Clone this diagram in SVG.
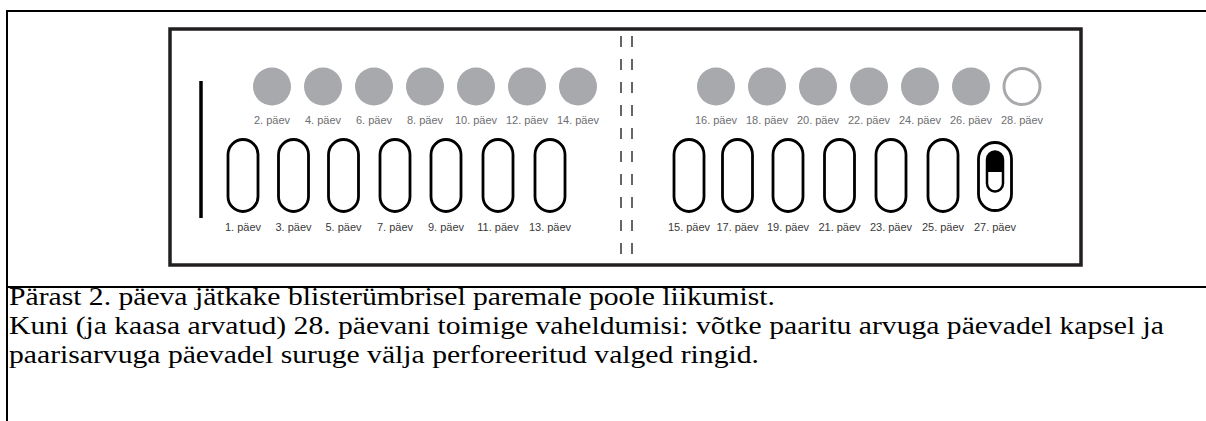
<svg xmlns="http://www.w3.org/2000/svg" width="1206" height="421" viewBox="0 0 1206 421">
<style>
.frame{stroke:#000;stroke-width:2;fill:none}
.box{fill:#fff;stroke:#231f20;stroke-width:3.5}
.dot{fill:#a7a9ac}
.ring{fill:none;stroke:#a7a9ac;stroke-width:3}
.cap{fill:#fff;stroke:#000;stroke-width:2.8}
.lbl{font-family:"Liberation Sans",Arial,sans-serif;font-size:11px;fill:#6d6e71;text-anchor:middle}
.lbl2{font-family:"Liberation Sans",Arial,sans-serif;font-size:11px;fill:#3a3a3a;text-anchor:middle}
.body{font-family:"Liberation Serif","Times New Roman",serif;font-size:25px;fill:#000}
.dash{stroke:#333;stroke-width:1.5;stroke-dasharray:11 12}
</style>
<rect width="1206" height="421" fill="#fff"/>
<g id="table">
<line class="frame" x1="7" y1="11" x2="1206" y2="11"/>
<line class="frame" x1="7" y1="10" x2="7" y2="421"/>
<line class="frame" x1="7" y1="287" x2="1206" y2="287"/>
</g>
<g id="blister">
<rect class="box" x="170" y="29" width="911" height="236"/>
<line x1="201" y1="81" x2="201" y2="218" stroke="#000" stroke-width="3.5"/>
<line class="dash" x1="621" y1="31" x2="621" y2="265" stroke-dashoffset="18"/>
<line class="dash" x1="632" y1="31" x2="632" y2="265" stroke-dashoffset="18"/>
</g>
<g id="even-days">
<circle class="dot" cx="272" cy="86.5" r="19"/><text class="lbl" x="272" y="124">2. päev</text>
<circle class="dot" cx="323" cy="86.5" r="19"/><text class="lbl" x="323" y="124">4. päev</text>
<circle class="dot" cx="374" cy="86.5" r="19"/><text class="lbl" x="374" y="124">6. päev</text>
<circle class="dot" cx="425" cy="86.5" r="19"/><text class="lbl" x="425" y="124">8. päev</text>
<circle class="dot" cx="476" cy="86.5" r="19"/><text class="lbl" x="476" y="124">10. päev</text>
<circle class="dot" cx="527" cy="86.5" r="19"/><text class="lbl" x="527" y="124">12. päev</text>
<circle class="dot" cx="578" cy="86.5" r="19"/><text class="lbl" x="578" y="124">14. päev</text>
<circle class="dot" cx="716" cy="86.5" r="19"/><text class="lbl" x="716" y="124">16. päev</text>
<circle class="dot" cx="767" cy="86.5" r="19"/><text class="lbl" x="767" y="124">18. päev</text>
<circle class="dot" cx="818" cy="86.5" r="19"/><text class="lbl" x="818" y="124">20. päev</text>
<circle class="dot" cx="869" cy="86.5" r="19"/><text class="lbl" x="869" y="124">22. päev</text>
<circle class="dot" cx="920" cy="86.5" r="19"/><text class="lbl" x="920" y="124">24. päev</text>
<circle class="dot" cx="971" cy="86.5" r="19"/><text class="lbl" x="971" y="124">26. päev</text>
<circle class="ring" cx="1022" cy="86.5" r="18"/><text class="lbl" x="1022" y="124">28. päev</text>
</g>
<g id="odd-days">
<rect class="cap" x="228" y="139.5" width="30" height="72" rx="15"/><text class="lbl2" x="243" y="231">1. päev</text>
<rect class="cap" x="278.5" y="139.5" width="30" height="72" rx="15"/><text class="lbl2" x="293.5" y="231">3. päev</text>
<rect class="cap" x="328.5" y="139.5" width="30" height="72" rx="15"/><text class="lbl2" x="343.5" y="231">5. päev</text>
<rect class="cap" x="380" y="139.5" width="30" height="72" rx="15"/><text class="lbl2" x="395" y="231">7. päev</text>
<rect class="cap" x="431" y="139.5" width="30" height="72" rx="15"/><text class="lbl2" x="446" y="231">9. päev</text>
<rect class="cap" x="483" y="139.5" width="30" height="72" rx="15"/><text class="lbl2" x="498" y="231">11. päev</text>
<rect class="cap" x="535" y="139.5" width="30" height="72" rx="15"/><text class="lbl2" x="550" y="231">13. päev</text>
<rect class="cap" x="674" y="139.5" width="30" height="72" rx="15"/><text class="lbl2" x="689" y="231">15. päev</text>
<rect class="cap" x="722.5" y="139.5" width="30" height="72" rx="15"/><text class="lbl2" x="737.5" y="231">17. päev</text>
<rect class="cap" x="773" y="139.5" width="30" height="72" rx="15"/><text class="lbl2" x="788" y="231">19. päev</text>
<rect class="cap" x="824.5" y="139.5" width="30" height="72" rx="15"/><text class="lbl2" x="839.5" y="231">21. päev</text>
<rect class="cap" x="876" y="139.5" width="30" height="72" rx="15"/><text class="lbl2" x="891" y="231">23. päev</text>
<rect class="cap" x="928" y="139.5" width="30" height="72" rx="15"/><text class="lbl2" x="943" y="231">25. päev</text>
<g id="day27">
<rect class="cap" x="978.5" y="142.5" width="33" height="68" rx="16.5"/>
<path d="M987,172 V159.5 A8,8 0 0 1 1003,159.5 V172 Z" fill="#000"/>
<rect x="987" y="151.5" width="16" height="40" rx="8" fill="none" stroke="#000" stroke-width="2.5"/>
<text class="lbl2" x="995" y="231">27. päev</text>
</g>
</g>
<g id="caption">
<text class="body" x="9" y="305" textLength="766" lengthAdjust="spacingAndGlyphs">Pärast 2. päeva jätkake blisterümbrisel paremale poole liikumist.</text>
<text class="body" x="9" y="334" textLength="1155" lengthAdjust="spacingAndGlyphs">Kuni (ja kaasa arvatud) 28. päevani toimige vaheldumisi: võtke paaritu arvuga päevadel kapsel ja</text>
<text class="body" x="9" y="363" textLength="750" lengthAdjust="spacingAndGlyphs">paarisarvuga päevadel suruge välja perforeeritud valged ringid.</text>
</g>
</svg>
